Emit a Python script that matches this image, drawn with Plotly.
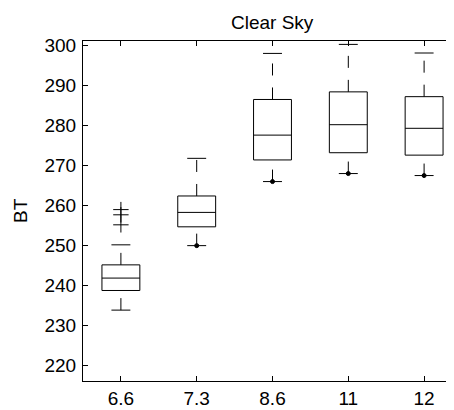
import plotly.graph_objects as go

categories = ["6.6", "7.3", "8.6", "11", "12"]
q1 = [238.8, 254.7, 271.4, 273.2, 272.6]
median = [241.9, 258.3, 277.6, 280.2, 279.3]
q3 = [245.2, 262.4, 286.5, 288.4, 287.2]
lower_adj = [233.9, 250.0, 266.0, 268.0, 267.5]
upper_adj = [250.2, 271.8, 298.0, 300.25, 298.1]
# outliers: (category index, value, marker)
outlier_cat = [0, 0, 0, 1, 2, 3, 4]
outlier_val = [259.0, 257.7, 255.2, 250.0, 266.0, 268.0, 267.5]
outlier_sym = ["cross-thin", "cross-thin", "cross-thin", "circle", "circle", "circle", "circle"]
yticks = [220, 230, 240, 250, 260, 270, 280, 290, 300]

BOX_W = 0.5
CAP_W = 0.25
FONT = "Liberation Sans, Arial, sans-serif"
pos = list(range(1, len(categories) + 1))

fig = go.Figure()

# boxes (no whiskers; drawn separately dashed)
fig.add_trace(go.Box(
    x=pos, q1=q1, median=median, q3=q3,
    lowerfence=q1, upperfence=q3,
    width=BOX_W, whiskerwidth=0,
    line=dict(color="black", width=1),
    fillcolor="rgba(255,255,255,0)",
    boxpoints=False, showlegend=False, hoverinfo="skip",
))

# whiskers (dashed) and caps
for i, p in enumerate(pos):
    for y0, y1 in ((lower_adj[i], q1[i]), (q3[i], upper_adj[i])):
        fig.add_trace(go.Scatter(
            x=[p, p], y=[y0, y1], mode="lines",
            line=dict(color="black", width=1, dash="12px,12px"),
            showlegend=False, hoverinfo="skip",
        ))
    for yc in (lower_adj[i], upper_adj[i]):
        fig.add_trace(go.Scatter(
            x=[p - CAP_W / 2, p + CAP_W / 2], y=[yc, yc], mode="lines",
            line=dict(color="black", width=1),
            showlegend=False, hoverinfo="skip",
        ))

# outliers
for sym in ("cross-thin", "circle"):
    xs = [pos[c] for c, s in zip(outlier_cat, outlier_sym) if s == sym]
    ys = [v for v, s in zip(outlier_val, outlier_sym) if s == sym]
    fig.add_trace(go.Scatter(
        x=xs, y=ys, mode="markers",
        marker=dict(symbol=sym, size=11 if sym == "cross-thin" else 4,
                    color="black", line=dict(color="black", width=1)),
        showlegend=False, hoverinfo="skip",
    ))

# page has an 8px body margin; compensate so the figure fills the window
BODY = 8
FIG_W, FIG_H = 454 - BODY, 410 - BODY
PLOT_L, PLOT_T, PLOT_B = 83 - BODY, 41 - BODY, 29
PLOT_W = FIG_W - PLOT_L
PLOT_H = FIG_H - PLOT_T - PLOT_B

fig.update_layout(
    template="none",
    width=FIG_W, height=FIG_H,
    margin=dict(l=PLOT_L, r=0, t=PLOT_T, b=PLOT_B, pad=0, autoexpand=False),
    paper_bgcolor="white", plot_bgcolor="white",
    font=dict(family=FONT, size=19, color="black"),
    xaxis=dict(
        automargin=False,
        range=[0.5, 0.5 + PLOT_W / 75.8],
        tickvals=pos, ticktext=categories,
        ticks="inside", ticklen=5, tickcolor="black", tickwidth=1,
        ticklabelstandoff=0,
        showline=True, linecolor="black", linewidth=1, mirror="ticks",
        showgrid=False, zeroline=False,
    ),
    yaxis=dict(
        automargin=False,
        range=[216.2, 301.1],
        tickvals=yticks,
        ticks="inside", ticklen=5, tickcolor="black", tickwidth=1,
        ticklabelstandoff=2,
        showline=True, linecolor="black", linewidth=1, mirror=False,
        showgrid=False, zeroline=False,
    ),
    annotations=[
        dict(text="BT", textangle=-90, xref="paper", yref="paper",
             x=(20 - 83) / PLOT_W, y=0.5, xanchor="center", yanchor="middle",
             showarrow=False, font=dict(family=FONT, size=19, color="black")),
        dict(text="Clear Sky", xref="paper", yref="paper",
             x=(462 - 83) / 2 / PLOT_W, y=1 + (41 - 23) / PLOT_H,
             xanchor="center", yanchor="middle",
             showarrow=False, font=dict(family=FONT, size=19, color="black")),
    ],
)

fig.write_html("out.html")
